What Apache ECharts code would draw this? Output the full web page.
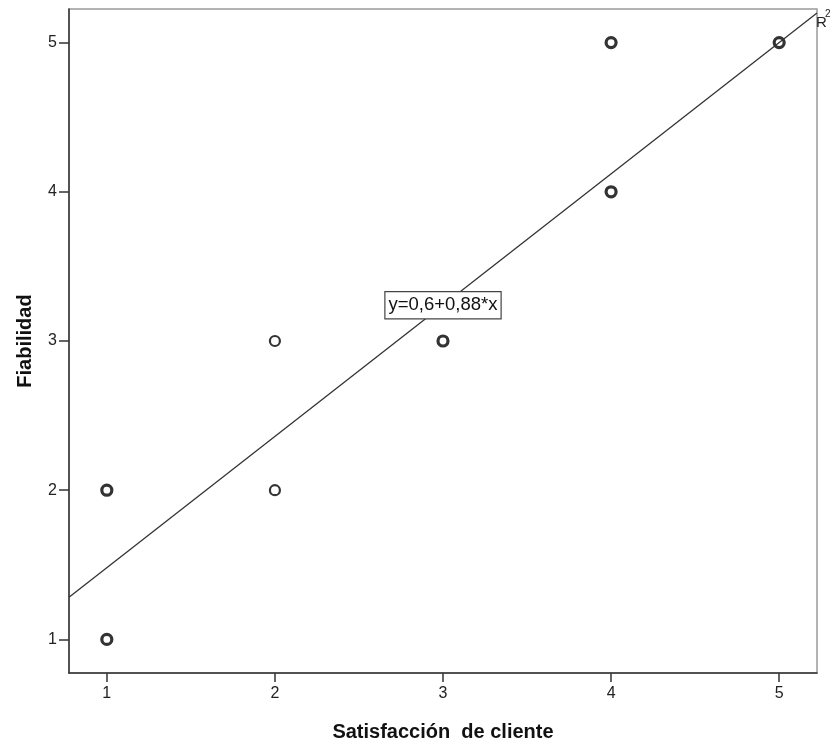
<!DOCTYPE html>
<html>
<head>
<meta charset="utf-8">
<script src="https://cdn.jsdelivr.net/npm/echarts@6/dist/echarts.min.js"></script>
<style>html,body{margin:0;padding:0;background:#fff}#c{width:835px;height:747px}</style>
</head>
<body>
<div id="c"></div>
<script>
// Data
const xValues = [1, 1, 2, 2, 3, 4, 4, 5];
const yValues = [1, 2, 2, 3, 3, 4, 5, 5];
const pointWeight = [2, 2, 1, 1, 2, 2, 2, 2]; // heavier rings where cases overlap
const intercept = 0.6;
const slope = 0.88;
const xTicks = [1, 2, 3, 4, 5];
const yTicks = [1, 2, 3, 4, 5];
const xAxisTitle = 'Satisfacción  de cliente';
const yAxisTitle = 'Fiabilidad';
const equationText = 'y=0,6+0,88*x';
const equationAt = [3, 3.24];

const xMin = 0.775, xMax = 5.225, yMin = 0.775, yMax = 5.225;

const points = xValues.map((x, i) => ({
  value: [x, yValues[i]],
  itemStyle: { borderWidth: pointWeight[i] === 2 ? 3.2 : 2.2 }
}));
const fitLine = [[xMin, intercept + slope * xMin], [xMax, intercept + slope * xMax]];

const chart = echarts.init(document.getElementById('c'));
const labelFont = 'Arial, "Liberation Sans", sans-serif';
chart.setOption({
  animation: false,
  grid: { left: 69, right: 18, top: 9, bottom: 70, show: true, borderColor: '#9a9a9a', borderWidth: 1.5, backgroundColor: '#fff' },
  xAxis: {
    type: 'value', min: xMin, max: xMax,
    name: xAxisTitle, nameLocation: 'middle', nameGap: 49,
    nameTextStyle: { fontFamily: labelFont, fontWeight: 'bold', fontSize: 20, color: '#111' },
    splitLine: { show: false },
    axisLine: { show: true, lineStyle: { color: '#333', width: 1.5 } },
    axisTick: { show: true, length: 9, lineStyle: { color: '#333', width: 1.5 }, customValues: xTicks },
    axisLabel: { color: '#222', fontSize: 16, fontFamily: labelFont, margin: 13, customValues: xTicks }
  },
  yAxis: {
    type: 'value', min: yMin, max: yMax,
    name: yAxisTitle, nameLocation: 'middle', nameGap: 34,
    nameTextStyle: { fontFamily: labelFont, fontWeight: 'bold', fontSize: 20, color: '#111' },
    splitLine: { show: false },
    axisLine: { show: true, lineStyle: { color: '#333', width: 1.5 } },
    axisTick: { show: true, length: 10, lineStyle: { color: '#333', width: 1.5 }, customValues: yTicks },
    axisLabel: { color: '#222', fontSize: 16, fontFamily: labelFont, margin: 12, customValues: yTicks }
  },
  series: [
    {
      type: 'line', data: fitLine, symbol: 'none', silent: true,
      lineStyle: { color: '#333', width: 1.3 },
      markPoint: {
        symbol: 'rect', symbolSize: 1, itemStyle: { color: 'transparent' },
        data: [{ coord: equationAt, value: equationText }],
        label: {
          show: true, position: 'inside', formatter: equationText,
          fontFamily: labelFont, fontSize: 18.5, color: '#111',
          backgroundColor: '#fff', borderColor: '#444', borderWidth: 1.2, padding: [4, 3, 3, 3]
        }
      }
    },
    {
      type: 'scatter', data: points, symbol: 'circle', symbolSize: 10,
      itemStyle: { color: '#fff', borderColor: '#000' }
    }
  ],
  graphic: [
    { type: 'text', left: 816, top: 15, style: { text: 'R', font: '15px ' + labelFont, fill: '#222' } },
    { type: 'text', left: 825, top: 9, style: { text: '2', font: '10px ' + labelFont, fill: '#222' } }
  ]
});
</script>
</body>
</html>
